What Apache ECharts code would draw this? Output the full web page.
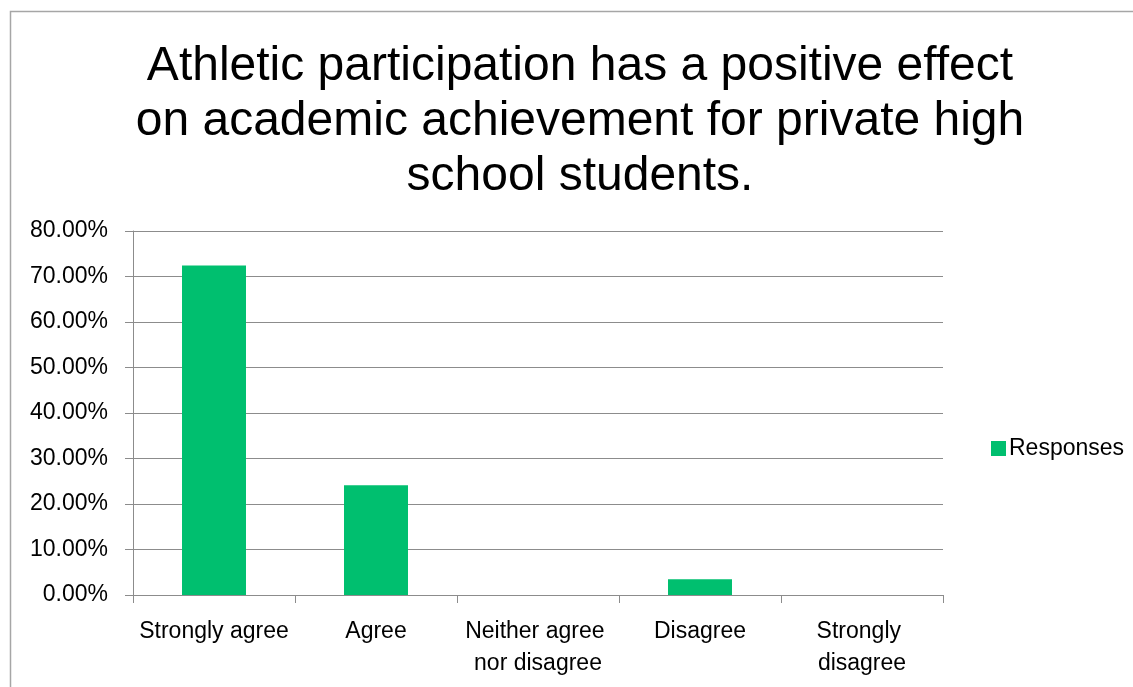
<!DOCTYPE html>
<html>
<head>
<meta charset="utf-8">
<script src="https://cdn.jsdelivr.net/npm/echarts@6/dist/echarts.min.js"></script>
<style>
  html, body { margin: 0; padding: 0; background: #ffffff; }
  #chart { width: 1133px; height: 687px; }
</style>
</head>
<body>
<div id="chart"></div>
<script>
// Survey answers and the share of respondents choosing each one
const titleText = 'Athletic participation has a positive effect\non academic achievement for private high\nschool students.';
const categories = ['Strongly agree', 'Agree', 'Neither agree nor disagree', 'Disagree', 'Strongly disagree'];
const seriesName = 'Responses';
const responses = [0.7241, 0.2414, 0, 0.0345, 0];
const yTicks = { min: 0, max: 0.8, interval: 0.1 };

const textFont = '"Liberation Sans", Arial, sans-serif';
const gridGray = '#8c8c8c';

const chart = echarts.init(document.getElementById('chart'), null, { renderer: 'canvas' });

chart.setOption({
  backgroundColor: '#ffffff',
  animation: false,
  graphic: [{
    type: 'rect',
    shape: { x: 10.5, y: 11.5, width: 1200, height: 1000 },
    style: { fill: 'none', stroke: '#a6a6a6', lineWidth: 1.5 },
    silent: true
  }],
  title: {
    text: titleText,
    left: 580,
    top: 39,
    padding: 0,
    textAlign: 'center',
    textStyle: {
      fontFamily: textFont,
      fontSize: 48,
      fontWeight: 'normal',
      color: '#000000',
      lineHeight: 55
    }
  },
  legend: {
    data: [seriesName],
    left: 986,
    top: 432,
    orient: 'vertical',
    icon: 'rect',
    itemWidth: 15,
    itemHeight: 15,
    itemGap: 7,
    textStyle: { fontFamily: textFont, fontSize: 23, color: '#000000', padding: [0, 0, 0, -2] }
  },
  grid: {
    left: 133,
    right: 1133 - 943,
    top: 231,
    bottom: 687 - 595,
    containLabel: false
  },
  xAxis: {
    type: 'category',
    data: categories,
    axisLine: { show: true, lineStyle: { color: gridGray, width: 1 } },
    axisTick: { show: true, alignWithLabel: false, length: 8, lineStyle: { color: gridGray } },
    axisLabel: {
      interval: 0,
      margin: 21,
      width: 158,
      overflow: 'break',
      lineHeight: 32,
      fontFamily: textFont,
      fontSize: 23,
      color: '#000000'
    }
  },
  yAxis: {
    type: 'value',
    min: yTicks.min,
    max: yTicks.max,
    interval: yTicks.interval,
    axisLine: { show: true, lineStyle: { color: gridGray, width: 1 } },
    axisTick: { show: true, length: 8, lineStyle: { color: gridGray } },
    splitLine: { show: true, lineStyle: { color: gridGray, width: 1 } },
    axisLabel: {
      margin: 25,
      fontFamily: textFont,
      fontSize: 23,
      color: '#000000',
      formatter: v => (v * 100).toFixed(2) + '%'
    }
  },
  series: [{
    name: seriesName,
    type: 'bar',
    data: responses,
    barWidth: '39.5%',
    itemStyle: { color: '#00bf6f' }
  }]
});
</script>
</body>
</html>
